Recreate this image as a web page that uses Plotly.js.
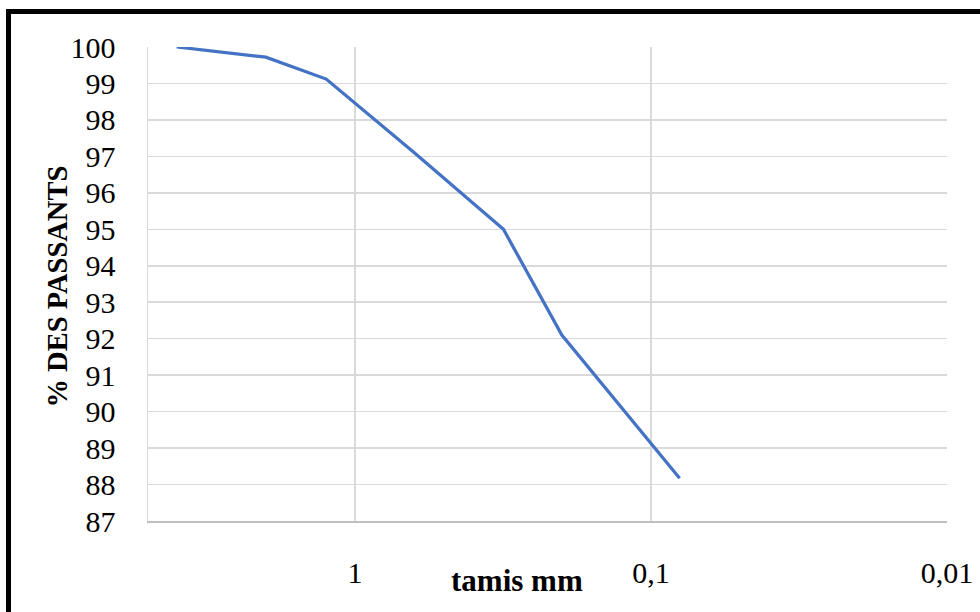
<!DOCTYPE html>
<html>
<head>
<meta charset="utf-8">
<script src="https://cdn.plot.ly/plotly-3.0.1.min.js"></script>
<style>
  html, body { margin: 0; padding: 0; background: #fff; }
  #wrap { position: relative; width: 980px; height: 612px; overflow: hidden; }
  #chart { position: absolute; left: 0; top: 0; width: 980px; height: 612px; }
  #frame { position: absolute; left: 6px; top: 9px; width: 1200px; height: 900px;
           border-left: 5px solid #000; border-top: 5px solid #000; pointer-events: none; }
</style>
</head>
<body>
<div id="wrap">
  <div id="chart"></div>
  <div id="frame"></div>
</div>
<script>
// Sieve sizes (mm) and percentage passing
const tamis = [4, 2, 1.25, 0.63, 0.315, 0.2, 0.08];
const passants = [100, 99.72, 99.12, 97.1, 95.0, 92.1, 88.17];
const xTickVals = [1, 0.1, 0.01];
const xTickText = ['1', '0,1', '0,01'];
const yTickVals = [87, 88, 89, 90, 91, 92, 93, 94, 95, 96, 97, 98, 99, 100];
const xTitle = 'tamis mm';
const yTitle = '% DES PASSANTS';

const font = 'Liberation Serif, Times New Roman, serif';

Plotly.newPlot('chart', [{
  x: tamis,
  y: passants,
  type: 'scatter',
  mode: 'lines',
  line: { color: '#4472C4', width: 3.25 },
  hoverinfo: 'x+y'
}], {
  width: 980,
  height: 612,
  margin: { l: 148, r: 33, t: 47, b: 91 },
  paper_bgcolor: '#fff',
  plot_bgcolor: '#fff',
  showlegend: false,
  font: { family: font, color: '#000', size: 30 },
  xaxis: {
    type: 'log',
    range: [Math.log10(5), Math.log10(0.01)],
    tickvals: xTickVals,
    ticktext: xTickText,
    showgrid: true,
    gridcolor: '#d9d9d9',
    gridwidth: 1.5,
    showline: true,
    linecolor: '#bfbfbf',
    linewidth: 1.5,
    zeroline: false,
    ticks: 'outside',
    ticklen: 24,
    tickcolor: 'rgba(0,0,0,0)',
    tickfont: { family: font, size: 30, color: '#000' },
    fixedrange: true
  },
  yaxis: {
    range: [87, 100],
    tickvals: yTickVals,
    showgrid: true,
    gridcolor: '#d9d9d9',
    gridwidth: 1.5,
    showline: true,
    linecolor: '#d9d9d9',
    linewidth: 1.5,
    zeroline: false,
    ticks: 'outside',
    ticklen: 25,
    tickcolor: 'rgba(0,0,0,0)',
    tickfont: { family: font, size: 30, color: '#000' },
    fixedrange: true
  },
  annotations: [
    {
      text: '<b>' + xTitle + '</b>',
      xref: 'paper', yref: 'paper',
      x: 0.462, y: 0, xanchor: 'center', yanchor: 'middle',
      yshift: -59,
      showarrow: false,
      font: { family: font, size: 31, color: '#000' }
    },
    {
      text: '<b>' + yTitle + '</b>',
      xref: 'paper', yref: 'paper',
      x: 0, y: 0.5, xanchor: 'center', yanchor: 'middle',
      xshift: -91.5, yshift: -3,
      textangle: -90,
      showarrow: false,
      font: { family: font, size: 28.5, color: '#000' }
    }
  ]
}, { displayModeBar: false, staticPlot: true });
</script>
</body>
</html>
